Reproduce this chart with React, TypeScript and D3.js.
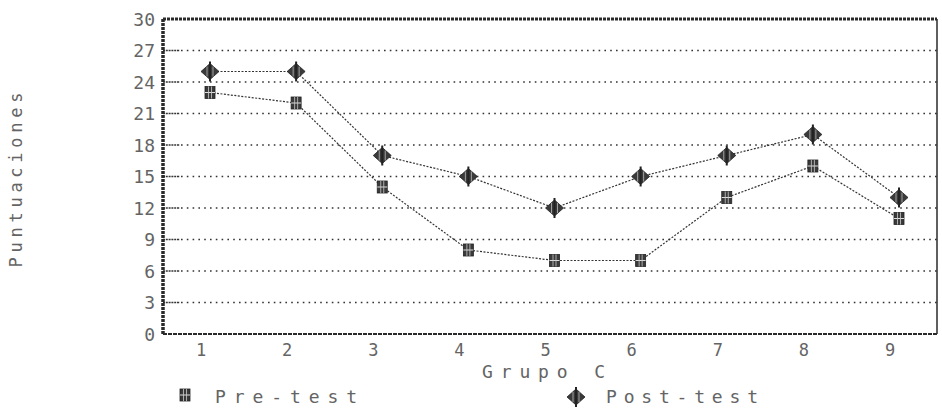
import React from "react";
import * as d3 from "d3";

const categories = ["1", "2", "3", "4", "5", "6", "7", "8", "9"];
const preTest = [23, 22, 14, 8, 7, 7, 13, 16, 11];
const postTest = [25, 25, 17, 15, 12, 15, 17, 19, 13];
const yTicks = [0, 3, 6, 9, 12, 15, 18, 21, 24, 27, 30];
const seriesNames = ["Pre-test", "Post-test"];
const xTitle = "Grupo C";
const yTitle = "Puntuaciones";

const W = 942;
const H = 416;
const frame = { left: 163, right: 937, top: 19, bottom: 334 };
const FONT = "'DejaVu Sans Mono', 'Liberation Mono', monospace";
const INK = "#2a2a2a";
const TXT = "#646464";

function PreMarker({ x, y }: { x: number; y: number }) {
  return (
    <g transform={`translate(${x},${y})`}>
      <rect x={-5} y={-6} width={10} height={12} fill="#3a3a3a" stroke="#222" strokeWidth={0.8} />
      <line x1={-5} x2={5} y1={0} y2={0} stroke="#ddd" strokeWidth={1} />
      <line x1={-1.5} x2={-1.5} y1={-6} y2={6} stroke="#ccc" strokeWidth={0.8} />
      <line x1={1.5} x2={1.5} y1={-6} y2={6} stroke="#ccc" strokeWidth={0.8} />
    </g>
  );
}

function PostMarker({ x, y }: { x: number; y: number }) {
  return (
    <g transform={`translate(${x},${y})`}>
      <path d="M-9,0 L0,-8 L9,0 L0,8 Z" fill="#3a3a3a" stroke="#222" strokeWidth={0.8} />
      <line x1={0} x2={0} y1={-10} y2={10} stroke="#222" strokeWidth={2} />
      <line x1={-3} x2={-3} y1={-5} y2={5} stroke="#bbb" strokeWidth={0.8} />
      <line x1={3} x2={3} y1={-5} y2={5} stroke="#bbb" strokeWidth={0.8} />
    </g>
  );
}

export default function App() {
  const x = d3.scalePoint<string>().domain(categories).range([210, 899]);
  const y = d3.scaleLinear().domain([0, 30]).range([frame.bottom, frame.top]);

  const line = d3
    .line<number>()
    .x((_, i) => x(categories[i]) as number)
    .y((d) => y(d));

  return (
    <svg
      width={W}
      height={H}
      viewBox={`0 0 ${W} ${H}`}
      style={{ position: "absolute", left: 0, top: 0, background: "#fff" }}
    >
      {/* gridlines and tick marks */}
      {yTicks.map((t) => (
        <g key={t}>
          {t > 0 && t < 30 && (
            <>
              <line
                x1={frame.left + 18}
                x2={frame.right}
                y1={y(t)}
                y2={y(t)}
                stroke="#333"
                strokeWidth={1.6}
                strokeDasharray="1.6,4.2"
              />
              <line
                x1={frame.left}
                x2={frame.left + 17}
                y1={y(t)}
                y2={y(t)}
                stroke="#333"
                strokeWidth={1.6}
                strokeDasharray="2,0.8"
              />
            </>
          )}
          <text
            x={155}
            y={y(t)}
            textAnchor="end"
            dominantBaseline="central"
            fontFamily={FONT}
            fontSize={18}
            fill={TXT}
            style={{ fontVariantNumeric: "slashed-zero" }}
          >
            {t}
          </text>
        </g>
      ))}

      {/* frame */}
      <line x1={frame.left} x2={frame.right} y1={frame.top} y2={frame.top} stroke={INK} strokeWidth={3} strokeDasharray="3,1" />
      <line x1={frame.left} x2={frame.left} y1={frame.top} y2={frame.bottom} stroke={INK} strokeWidth={3.5} strokeDasharray="3,1" />
      <line x1={frame.right} x2={frame.right} y1={frame.top} y2={frame.bottom} stroke={INK} strokeWidth={1.5} />
      <line x1={frame.left} x2={frame.right} y1={frame.bottom} y2={frame.bottom} stroke={INK} strokeWidth={2} strokeDasharray="4,1" />

      {/* x tick labels */}
      {categories.map((c) => (
        <text
          key={c}
          x={(x(c) as number) - 9}
          y={350}
          textAnchor="middle"
          dominantBaseline="central"
          fontFamily={FONT}
          fontSize={17}
          fill={TXT}
        >
          {c}
        </text>
      ))}

      {/* axis titles */}
      <text
        x={482}
        y={371}
        dominantBaseline="central"
        fontFamily={FONT}
        fontSize={18}
        fill={TXT}
        textLength={123}
        lengthAdjust="spacing"
      >
        {xTitle}
      </text>
      <text
        transform={`translate(16,${180}) rotate(-90)`}
        textAnchor="middle"
        dominantBaseline="central"
        fontFamily={FONT}
        fontSize={17}
        fill={TXT}
        textLength={175}
        lengthAdjust="spacing"
      >
        {yTitle}
      </text>

      {/* series lines */}
      <path d={line(preTest) || ""} fill="none" stroke="#333" strokeWidth={1.2} strokeDasharray="2,1.5" />
      <path d={line(postTest) || ""} fill="none" stroke="#333" strokeWidth={1.2} strokeDasharray="2,1.5" />

      {/* markers */}
      {preTest.map((v, i) => (
        <PreMarker key={`pre${i}`} x={x(categories[i]) as number} y={y(v)} />
      ))}
      {postTest.map((v, i) => (
        <PostMarker key={`post${i}`} x={x(categories[i]) as number} y={y(v)} />
      ))}

      {/* legend */}
      <g>
        <PreMarker x={185} y={395} />
        <text
          x={215}
          y={396}
          dominantBaseline="central"
          fontFamily={FONT}
          fontSize={18}
          fill={TXT}
          textLength={142}
          lengthAdjust="spacing"
        >
          {seriesNames[0]}
        </text>
        <PostMarker x={576} y={397} />
        <text
          x={606}
          y={396}
          dominantBaseline="central"
          fontFamily={FONT}
          fontSize={18}
          fill={TXT}
          textLength={152}
          lengthAdjust="spacing"
        >
          {seriesNames[1]}
        </text>
      </g>
    </svg>
  );
}
